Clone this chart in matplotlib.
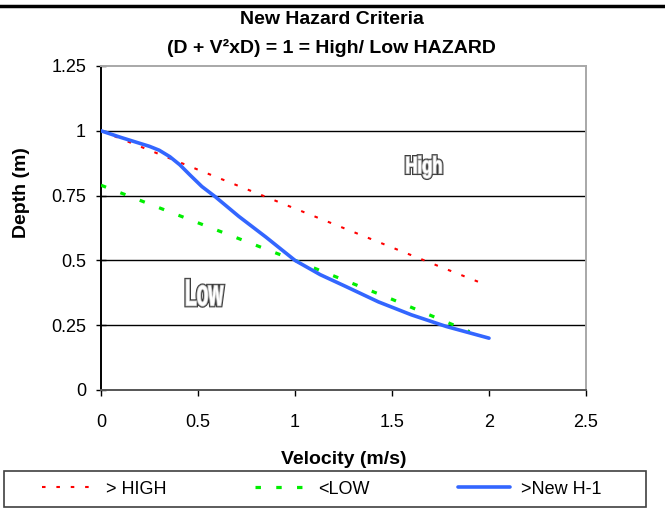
import matplotlib
matplotlib.use("Agg")
import matplotlib.pyplot as plt
import matplotlib.patheffects as pe
import matplotlib.transforms as mtransforms
from matplotlib.lines import Line2D
from matplotlib.patches import Rectangle, PathPatch
from matplotlib.textpath import TextPath
from matplotlib.font_manager import FontProperties

plt.rcParams['font.family'] = ['Liberation Sans', 'DejaVu Sans']

v_high = [0, 0.25, 0.5, 0.75, 1.0, 1.25, 1.5, 1.75, 1.97]
d_high = [1.0, 0.925, 0.85, 0.775, 0.70, 0.625, 0.55, 0.475, 0.41]

v_low = [0, 0.5, 1.0, 1.5, 1.9]
d_low = [0.79, 0.645, 0.5, 0.35, 0.225]

v_new = [0, 0.1, 0.25, 0.3, 0.355, 0.406, 0.458, 0.52, 0.59, 0.71, 0.85,
         1.0, 1.13, 1.26, 1.43, 1.6, 1.78, 2.0]
d_new = [1.0, 0.975, 0.94, 0.925, 0.90, 0.869, 0.83, 0.785, 0.745, 0.67,
         0.59, 0.50, 0.445, 0.40, 0.34, 0.29, 0.245, 0.20]

x_ticks = [0, 0.5, 1, 1.5, 2, 2.5]
x_labels = ['0', '0.5', '1', '1.5', '2', '2.5']
y_ticks = [0, 0.25, 0.5, 0.75, 1, 1.25]
y_labels = ['0', '0.25', '0.5', '0.75', '1', '1.25']
grid_y = [0.25, 0.5, 0.75, 1.0]

W, H = 665, 509
fig = plt.figure(figsize=(W / 100, H / 100), dpi=100)
ax = fig.add_axes([101 / W, 1 - 390 / H, (586 - 101) / W, (390 - 66) / H])

for g in grid_y:
    ax.axhline(g, color='black', lw=1.0, zorder=1)

ax.plot(v_high, d_high, color='#ff0000', lw=1.5, dashes=(1.7, 5.2),
        label='> HIGH', zorder=3)
ax.plot(v_low, d_low, color='#00ee00', lw=2.3, dashes=(1.7, 4.8),
        label='<LOW', zorder=3)
ax.plot(v_new, d_new, color='#3366ff', lw=2.6, solid_joinstyle='round',
        solid_capstyle='round', label='>New H-1', zorder=4)

ax.set_xlim(0, 2.5)
ax.set_ylim(0, 1.25)
ax.set_xticks(x_ticks, labels=x_labels)
ax.set_yticks(y_ticks, labels=y_labels)
ax.tick_params(axis='y', direction='inout', length=7.5, width=1.0,
               labelsize=13, pad=7)
ax.tick_params(axis='x', direction='out', length=4, width=1.0,
               labelsize=13, pad=13)

ax.spines['left'].set_color('black')
ax.spines['left'].set_linewidth(1.4)
ax.spines['bottom'].set_color('#555555')
ax.spines['bottom'].set_linewidth(1.4)
for s in ('top', 'right'):
    ax.spines[s].set_color('#a8a8a8')
    ax.spines[s].set_linewidth(1.4)

ax.set_xlabel('Velocity (m/s)', fontsize=14, fontweight='bold', labelpad=15)
ax.set_ylabel('Depth (m)', fontsize=14, fontweight='bold')
ax.yaxis.set_label_coords(-0.146, 0.61)


def outlined_word(x, y, word, width_px, height_px):
    # narrow, outlined word art like the original sheet
    tp = TextPath((0, 0), word, size=100,
                  prop=FontProperties(family='Liberation Sans', weight='bold'))
    ext = tp.get_extents()
    tr = (mtransforms.Affine2D()
          .translate(-(ext.x0 + ext.x1) / 2, -(ext.y0 + ext.y1) / 2)
          .scale(width_px / ext.width, height_px / ext.height)
          + mtransforms.ScaledTranslation(x, y, ax.transData))
    patch = PathPatch(tp, facecolor='white', edgecolor='white', lw=0.3,
                      transform=tr, zorder=5,
                      path_effects=[pe.Stroke(linewidth=2.8, foreground='#3a3a3a'),
                                    pe.Stroke(linewidth=1.4, foreground='#a0a0a0'),
                                    pe.Normal()])
    ax.add_patch(patch)


outlined_word(1.665, 0.86, 'High', 35, 22)
outlined_word(0.535, 0.375, 'Low', 37, 26)

fig.text(0.499, 1 - 19 / H, 'New Hazard Criteria', fontsize=14,
         fontweight='bold', ha='center', va='center')
fig.text(0.499, 1 - 48 / H, '(D + V\u00b2xD) = 1 = High/ Low HAZARD',
         fontsize=14, fontweight='bold', ha='center', va='center')

# top rule of the page
fig.add_artist(Line2D([0, 1], [1 - 6 / H, 1 - 6 / H], color='black', lw=2.5))

# legend strip
fig.add_artist(Rectangle((4 / W, 2 / H), 642 / W, 36 / H, fill=False,
                         edgecolor='#404040', lw=1.2))
handles, labels = ax.get_legend_handles_labels()
fig.legend(handles, labels, loc='center', bbox_to_anchor=(0.484, 1 - 489 / H),
           ncol=3, frameon=False, fontsize=13, handlelength=2.9,
           handletextpad=0.6, columnspacing=4.9)

fig.savefig('out.png', dpi=100)
